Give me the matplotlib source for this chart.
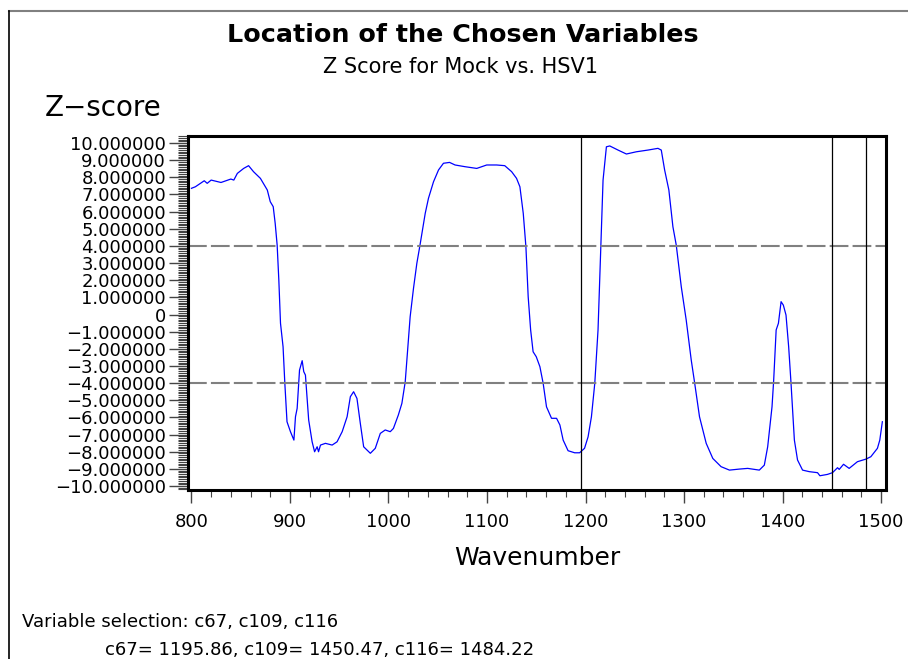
import matplotlib
matplotlib.use('Agg')
import matplotlib.pyplot as plt
from matplotlib.lines import Line2D
from matplotlib.ticker import MultipleLocator, FixedLocator
import numpy as np

plt.rcParams['font.family'] = ['DejaVu Sans']

# data
wavenumber = [800, 804, 813, 816, 820, 830, 840, 843, 846.6, 853, 858, 863, 870, 877, 880,
              883, 885, 887, 888.7, 890.4, 893, 894.8, 897, 900.5, 904, 905.6, 907.3, 909.7,
              912.4, 914, 915.7, 919, 922.5, 925, 927.6, 929, 931, 936, 942.8, 947.8, 953,
              958, 961.3, 964.6, 968, 971.4, 974.8, 981.6, 986.6, 991.7, 996.7, 1001.8, 1005,
              1010, 1013.6, 1017, 1022, 1025.4, 1028.8, 1032, 1037.3, 1040.6, 1045.7, 1050.8,
              1055.8, 1062, 1067.6, 1077.7, 1089.6, 1099.7, 1109.8, 1118, 1125, 1130, 1133.4,
              1136.8, 1139.5, 1141.8, 1144.3, 1146.8, 1150, 1153.7, 1157, 1160.4, 1165.5,
              1170.6, 1174, 1177.3, 1182.3, 1189, 1194, 1199, 1202.6, 1206, 1209.4, 1212.7,
              1215.5, 1217.8, 1221.2, 1224.6, 1233, 1241.5, 1251.6, 1263.4, 1273.5, 1276.9,
              1280.3, 1284.6, 1288.7, 1292.1, 1297.2, 1302.2, 1307.3, 1310.6, 1315.7, 1322.5,
              1329.2, 1337.6, 1346.1, 1356.2, 1364.6, 1376.4, 1381.5, 1384.9, 1389.3, 1391,
              1393.5, 1395.8, 1398.5, 1400.8, 1403.5, 1406.2, 1408.6, 1412, 1415.2, 1420.3,
              1427.1, 1435.5, 1437.9, 1445.6, 1450.7, 1455.8, 1457.5, 1461.9, 1467.6, 1476,
              1484.6, 1489.6, 1496.3, 1498.7, 1501.3]
zscore = [7.36, 7.45, 7.8, 7.65, 7.84, 7.7, 7.9, 7.84, 8.23, 8.52, 8.68, 8.33, 7.94, 7.26, 6.58,
          6.29, 5.32, 4.05, 2.01, -0.51, -1.88, -4.01, -6.25, -6.83, -7.32, -5.96, -5.47, -3.24,
          -2.69, -3.33, -3.53, -6.15, -7.42, -8.0, -7.71, -8.0, -7.61, -7.51, -7.61, -7.42, -6.83,
          -5.96, -4.79, -4.5, -4.89, -6.34, -7.71, -8.09, -7.8, -6.93, -6.73, -6.83, -6.64,
          -5.86, -5.18, -3.92, -0.13, 1.53, 2.99, 4.05, 5.9, 6.78, 7.74, 8.43,
          8.82, 8.87, 8.72, 8.62, 8.52, 8.72, 8.72, 8.68, 8.33, 7.94, 7.45,
          5.9, 3.95, 1.04, -0.9, -2.17, -2.46, -3.04, -4.01, -5.38, -6.05,
          -6.05, -6.44, -7.32, -7.94, -8.06, -8.06, -7.8, -7.13, -5.96, -4.01, -0.9,
          3.95, 7.84, 9.78, 9.83, 9.59, 9.36, 9.49, 9.59, 9.69, 9.59,
          8.43, 7.26, 5.12, 4.05, 1.62, -0.32, -2.65, -3.92, -5.96, -7.51,
          -8.39, -8.87, -9.07, -9.01, -8.97, -9.07, -8.78, -7.71, -5.38, -3.82,
          -0.9, -0.51, 0.75, 0.55, -0.03, -1.88, -4.01, -7.32, -8.48, -9.07,
          -9.16, -9.22, -9.4, -9.32, -9.22, -8.93, -9.03, -8.73, -8.97, -8.58,
          -8.43, -8.29, -7.8, -7.32, -6.25]

selected = [1195.86, 1450.47, 1484.22]
cutoffs = [-4, 4]
y_ticks = list(range(-10, 11))
x_ticks = list(range(800, 1501, 100))

W, H = 908, 659
fig = plt.figure(figsize=(W / 100, H / 100), dpi=100)


def fx(px):
    return px / W


def fy(py):
    return 1 - py / H


ax = fig.add_axes([fx(187.5), fy(490), fx(886) - fx(187.5), fy(136) - fy(490)])

ax.plot(wavenumber, zscore, color='#0000ff', lw=0.9)
for c in cutoffs:
    ax.axhline(c, color='#808080', lw=1.5, dashes=(9, 2))
for s in selected:
    ax.axvline(s, color='black', lw=0.9)

ax.set_xlim(796, 1505)
ax.set_ylim(-10.41, 10.41 - 0.18)
ax.set_ylim(-10.23, 10.41)

for sp in ax.spines.values():
    sp.set_linewidth(2.2)
    sp.set_color('black')

ax.xaxis.set_major_locator(FixedLocator(x_ticks))
ax.xaxis.set_minor_locator(MultipleLocator(20))
ax.yaxis.set_major_locator(FixedLocator(y_ticks))
ax.yaxis.set_minor_locator(MultipleLocator(0.1))

ylabels = []
for v in y_ticks:
    if v == 0:
        ylabels.append('0')
    else:
        ylabels.append(('%.6f' % v).replace('-', '\u2212'))
ax.set_yticklabels(ylabels)
ax.set_xticklabels([str(v) for v in x_ticks])

ax.tick_params(axis='y', which='major', direction='out', length=14, width=1,
               color='#444444', labelsize=13, pad=1.5)
ax.tick_params(axis='y', which='minor', direction='out', length=7, width=0.8,
               color='#444444')
ax.tick_params(axis='x', which='major', direction='out', length=9.5, width=1,
               color='#444444', labelsize=13, pad=7)
ax.tick_params(axis='x', which='minor', direction='out', length=5, width=0.8,
               color='#444444')

fig.text(fx(463), fy(35), 'Location of the Chosen Variables', ha='center', va='center',
         fontsize=18.3, fontweight='bold')
fig.text(fx(460), fy(67), 'Z Score for Mock vs. HSV1', ha='center', va='center', fontsize=15)
fig.text(fx(45), fy(108), 'Z\u2212score', ha='left', va='center', fontsize=20)
fig.text(fx(537), fy(558), 'Wavenumber', ha='center', va='center', fontsize=18)
fig.text(fx(22), fy(622), 'Variable selection: c67, c109, c116', ha='left', va='center',
         fontsize=13)
fig.text(fx(105), fy(650), 'c67= 1195.86, c109= 1450.47, c116= 1484.22', ha='left',
         va='center', fontsize=13)

# page border
fig.add_artist(Line2D([fx(9), fx(908)], [fy(11), fy(11)], color='#808080', lw=1.5))
fig.add_artist(Line2D([fx(9), fx(9)], [fy(11), fy(659)], color='black', lw=1.2))

fig.savefig('out.png', dpi=100)
